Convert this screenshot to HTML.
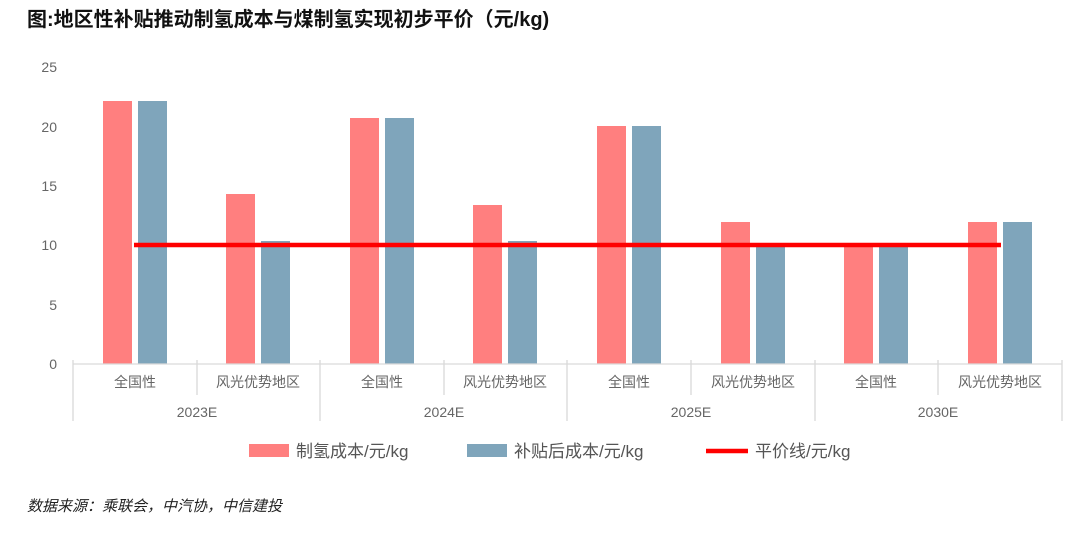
<!DOCTYPE html>
<html><head><meta charset="utf-8"><style>
body{margin:0;background:#fff;width:1080px;height:529px;overflow:hidden}
text{font-family:"Liberation Sans","Noto Sans CJK SC",sans-serif}
</style></head><body>
<svg width="1080" height="529" xmlns="http://www.w3.org/2000/svg">
<text x="27" y="26" font-size="20" font-weight="bold" fill="#111" font-family="'Liberation Serif','Noto Serif CJK SC',serif">图:地区性补贴推动制氢成本与煤制氢实现初步平价（元/kg)</text>
<g font-size="14" fill="#666" text-anchor="end">
<text x="57" y="72">25</text><text x="57" y="132">20</text><text x="57" y="191">15</text>
<text x="57" y="250">10</text><text x="57" y="310">5</text><text x="57" y="369">0</text>
</g>
<g fill="#FF7F7F">
<rect x="103" y="101" width="29" height="263"/>
<rect x="226" y="194" width="29" height="170"/>
<rect x="350" y="118" width="29" height="246"/>
<rect x="473" y="205" width="29" height="159"/>
<rect x="597" y="126" width="29" height="238"/>
<rect x="721" y="222" width="29" height="142"/>
<rect x="844" y="245" width="29" height="119"/>
<rect x="968" y="222" width="29" height="142"/>
</g>
<g fill="#7FA5BB">
<rect x="138" y="101" width="29" height="263"/>
<rect x="261" y="241" width="29" height="123"/>
<rect x="385" y="118" width="29" height="246"/>
<rect x="508" y="241" width="29" height="123"/>
<rect x="632" y="126" width="29" height="238"/>
<rect x="756" y="245" width="29" height="119"/>
<rect x="879" y="245" width="29" height="119"/>
<rect x="1003" y="222" width="29" height="142"/>
</g>
<line x1="134" y1="245" x2="1001" y2="245" stroke="#FF0000" stroke-width="4.5"/>
<g stroke="#d9d9d9" stroke-width="1.3">
<line x1="73" y1="364" x2="1062" y2="364"/>
<line x1="73" y1="360" x2="73" y2="421"/>
<line x1="320" y1="360" x2="320" y2="421"/>
<line x1="567" y1="360" x2="567" y2="421"/>
<line x1="815" y1="360" x2="815" y2="421"/>
<line x1="1062" y1="360" x2="1062" y2="421"/>
<line x1="197" y1="360" x2="197" y2="395"/>
<line x1="444" y1="360" x2="444" y2="395"/>
<line x1="691" y1="360" x2="691" y2="395"/>
<line x1="938" y1="360" x2="938" y2="395"/>
</g>
<g font-size="14" fill="#666" text-anchor="middle">
<text x="135" y="387">全国性</text><text x="258" y="387">风光优势地区</text>
<text x="382" y="387">全国性</text><text x="505" y="387">风光优势地区</text>
<text x="629" y="387">全国性</text><text x="753" y="387">风光优势地区</text>
<text x="876" y="387">全国性</text><text x="1000" y="387">风光优势地区</text>
<text x="197" y="417">2023E</text><text x="444" y="417">2024E</text>
<text x="691" y="417">2025E</text><text x="938" y="417">2030E</text>
</g>
<rect x="249" y="444" width="40" height="13" fill="#FF7F7F"/>
<text x="296" y="457" font-size="17" fill="#555">制氢成本/元/kg</text>
<rect x="467" y="444" width="40" height="13" fill="#7FA5BB"/>
<text x="514" y="457" font-size="17" fill="#555">补贴后成本/元/kg</text>
<line x1="706" y1="451" x2="748" y2="451" stroke="#FF0000" stroke-width="4.5"/>
<text x="755" y="457" font-size="17" fill="#555">平价线/元/kg</text>
<text x="27" y="511" font-size="15" font-style="italic" fill="#222" font-family="'Liberation Serif','Noto Serif CJK SC',serif">数据来源：乘联会，中汽协，中信建投</text>
</svg>
</body></html>
